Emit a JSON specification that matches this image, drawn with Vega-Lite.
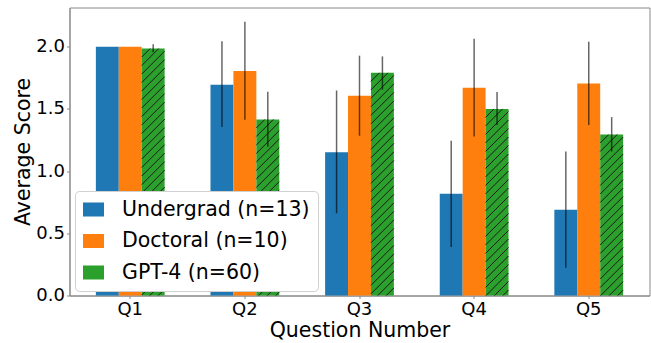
{
  "$schema": "https://vega.github.io/schema/vega-lite/v6.json",
  "width": 580,
  "height": 288,
  "autosize": {"type": "none"},
  "padding": {"left": 69.5, "top": 7.5, "right": 1.5, "bottom": 47.5},
  "config": {
    "font": "DejaVu Sans",
    "view": {"stroke": "#888", "strokeWidth": 1},
    "axis": {
      "domainColor": "#888",
      "tickColor": "#888",
      "tickSize": 3,
      "labelPadding": 2,
      "labelFontSize": 18,
      "labelColor": "black",
      "titleFontSize": 20.5,
      "titleFontWeight": "normal",
      "titleColor": "black",
      "titlePadding": 2,
      "grid": false
    },
    "legend": {
      "orient": "none",
      "legendX": 5.5,
      "legendY": 183.5,
      "symbolType": "M-1,-0.667H1V0.667H-1Z",
      "symbolSize": 441,
      "symbolStrokeWidth": 0,
      "labelFontSize": 20.5,
      "labelColor": "black",
      "labelLimit": 0,
      "labelOffset": 18,
      "rowPadding": 10.5,
      "padding": 8,
      "strokeColor": "#d0d0d0",
      "fillColor": "white",
      "cornerRadius": 4
    }
  },
  "data": {
    "values": [
      {"q": "Q1", "g": "Undergrad (n=13)", "v": 2.0, "lo": null, "hi": null},
      {"q": "Q1", "g": "Doctoral (n=10)", "v": 2.0, "lo": null, "hi": null},
      {"q": "Q1", "g": "GPT-4 (n=60)", "v": 1.985, "lo": 1.955, "hi": 2.02},
      {"q": "Q2", "g": "Undergrad (n=13)", "v": 1.695, "lo": 1.354, "hi": 2.043},
      {"q": "Q2", "g": "Doctoral (n=10)", "v": 1.805, "lo": 1.412, "hi": 2.2},
      {"q": "Q2", "g": "GPT-4 (n=60)", "v": 1.415, "lo": 1.195, "hi": 1.638},
      {"q": "Q3", "g": "Undergrad (n=13)", "v": 1.152, "lo": 0.661, "hi": 1.648},
      {"q": "Q3", "g": "Doctoral (n=10)", "v": 1.605, "lo": 1.284, "hi": 1.928},
      {"q": "Q3", "g": "GPT-4 (n=60)", "v": 1.79, "lo": 1.654, "hi": 1.922},
      {"q": "Q4", "g": "Undergrad (n=13)", "v": 0.817, "lo": 0.39, "hi": 1.243},
      {"q": "Q4", "g": "Doctoral (n=10)", "v": 1.67, "lo": 1.278, "hi": 2.064},
      {"q": "Q4", "g": "GPT-4 (n=60)", "v": 1.5, "lo": 1.37, "hi": 1.635},
      {"q": "Q5", "g": "Undergrad (n=13)", "v": 0.69, "lo": 0.224, "hi": 1.157},
      {"q": "Q5", "g": "Doctoral (n=10)", "v": 1.705, "lo": 1.37, "hi": 2.04},
      {"q": "Q5", "g": "GPT-4 (n=60)", "v": 1.294, "lo": 1.157, "hi": 1.434}
    ]
  },
  "encoding": {
    "x": {
      "field": "q",
      "type": "nominal",
      "title": "Question Number",
      "scale": {"paddingInner": 0.4, "paddingOuter": 0.23},
      "axis": {"labelAngle": 0}
    },
    "xOffset": {
      "field": "g",
      "type": "nominal",
      "scale": {"domain": ["Undergrad (n=13)", "Doctoral (n=10)", "GPT-4 (n=60)"], "paddingInner": 0, "paddingOuter": 0}
    }
  },
  "layer": [
    {
      "mark": {"type": "bar"},
      "encoding": {
        "y": {
          "field": "v",
          "type": "quantitative",
          "title": "Average Score",
          "scale": {"domain": [0, 2.315], "nice": false},
          "axis": {"values": [0, 0.5, 1, 1.5, 2], "format": ".1f"}
        },
        "color": {
          "field": "g",
          "type": "nominal",
          "title": null,
          "scale": {"domain": ["Undergrad (n=13)", "Doctoral (n=10)", "GPT-4 (n=60)"], "range": ["#1f77b4", "#ff7f0e", "#2ca02c"]}
        }
      }
    },
    {
      "transform": [{"filter": "datum.g == 'GPT-4 (n=60)'"}],
      "mark": {
        "type": "point",
        "shape": "M-11.45,8.5L-2.95,0M-11.45,17L5.55,0M-11.45,25.5L11.45,2.6M-11.45,34L11.45,11.1M-11.45,42.5L11.45,19.6M-11.45,51L11.45,28.1M-11.45,59.5L11.45,36.6M-11.45,68L11.45,45.1M-11.45,76.5L11.45,53.6M-11.45,85L11.45,62.1M-11.45,93.5L11.45,70.6M-11.45,102L11.45,79.1M-11.45,110.5L11.45,87.6M-11.45,119L11.45,96.1M-11.45,127.5L11.45,104.6M-11.45,136L11.45,113.1M-11.45,144.5L11.45,121.6M-11.45,153L11.45,130.1M-11.45,161.5L11.45,138.6M-11.45,170L11.45,147.1M-11.45,178.5L11.45,155.6M-11.45,187L11.45,164.1M-11.45,195.5L11.45,172.6M-11.45,204L11.45,181.1M-11.45,212.5L11.45,189.6M-11.45,221L11.45,198.1M-11.45,229.5L11.45,206.6M-11.45,238L11.45,215.1M-11.45,246.5L11.45,223.6M-11.45,255L11.45,232.1M-11.45,263.5L11.45,240.6M-11.45,272L11.45,249.1M-11.45,280.5L11.45,257.6M-11.45,289L11.45,266.1M-11.45,297.5L11.45,274.6M-11.45,306L11.45,283.1",
        "size": 4,
        "filled": false,
        "stroke": "#1a1a1a",
        "strokeWidth": 1,
        "opacity": 1,
        "clip": true
      },
      "encoding": {
        "y": {"field": "v", "type": "quantitative"}
      }
    },
    {
      "transform": [{"filter": "datum.lo != null"}],
      "mark": {"type": "rule", "color": "black", "opacity": 0.6, "strokeWidth": 1.5},
      "encoding": {
        "y": {"field": "lo", "type": "quantitative"},
        "y2": {"field": "hi"}
      }
    }
  ]
}
